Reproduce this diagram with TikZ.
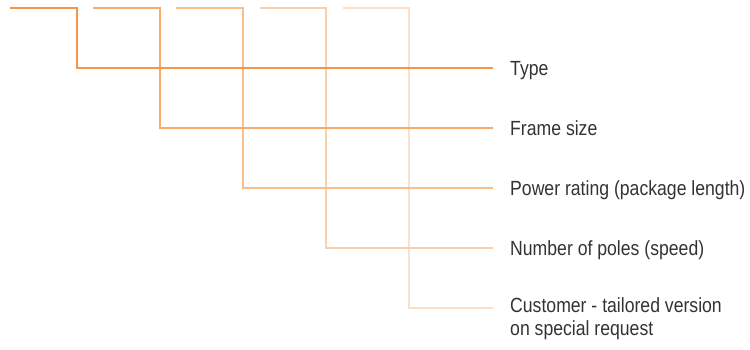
\documentclass[tikz,border=0pt]{standalone}
\usepackage{fontspec}
\setmainfont{Liberation Sans}[FakeStretch=0.86]
\definecolor{keyorange}{RGB}{245,150,70}
\begin{document}
\begin{tikzpicture}[x=1pt, y=-1pt,
	key/.style={line width=2pt},
	lbl/.style={anchor=west, inner sep=0pt, text height=14pt, text depth=0pt, text=black!80, font=\fontsize{20.5}{23}\selectfont}]
	\useasboundingbox (0,0) rectangle (750,349);

	\node[lbl] (type) at (510,68) {Type};
	\node[lbl] (frame) at (510,128) {Frame size};
	\node[lbl] (power) at (510,188) {Power rating (package length)};
	\node[lbl] (poles) at (510,248) {Number of poles (speed)};
	\node[lbl, align=left, text height=, text depth=] (custom) at (510,319) {Customer - tailored version\\on special request};

	\draw[key, keyorange!30] (343,8) -- (409,8) |- ([xshift=-17pt,yshift=11pt]custom.west);
	\draw[key, keyorange!45] (260,8) -- (326,8) |- ([xshift=-17pt]poles.west);
	\draw[key, keyorange!62] (176,8) -- (243,8) |- ([xshift=-17pt]power.west);
	\draw[key, keyorange!80] (93,8) -- (160,8) |- ([xshift=-17pt]frame.west);
	\draw[key, keyorange] (10,8) -- (77,8) |- ([xshift=-17pt]type.west);
\end{tikzpicture}
\end{document}
